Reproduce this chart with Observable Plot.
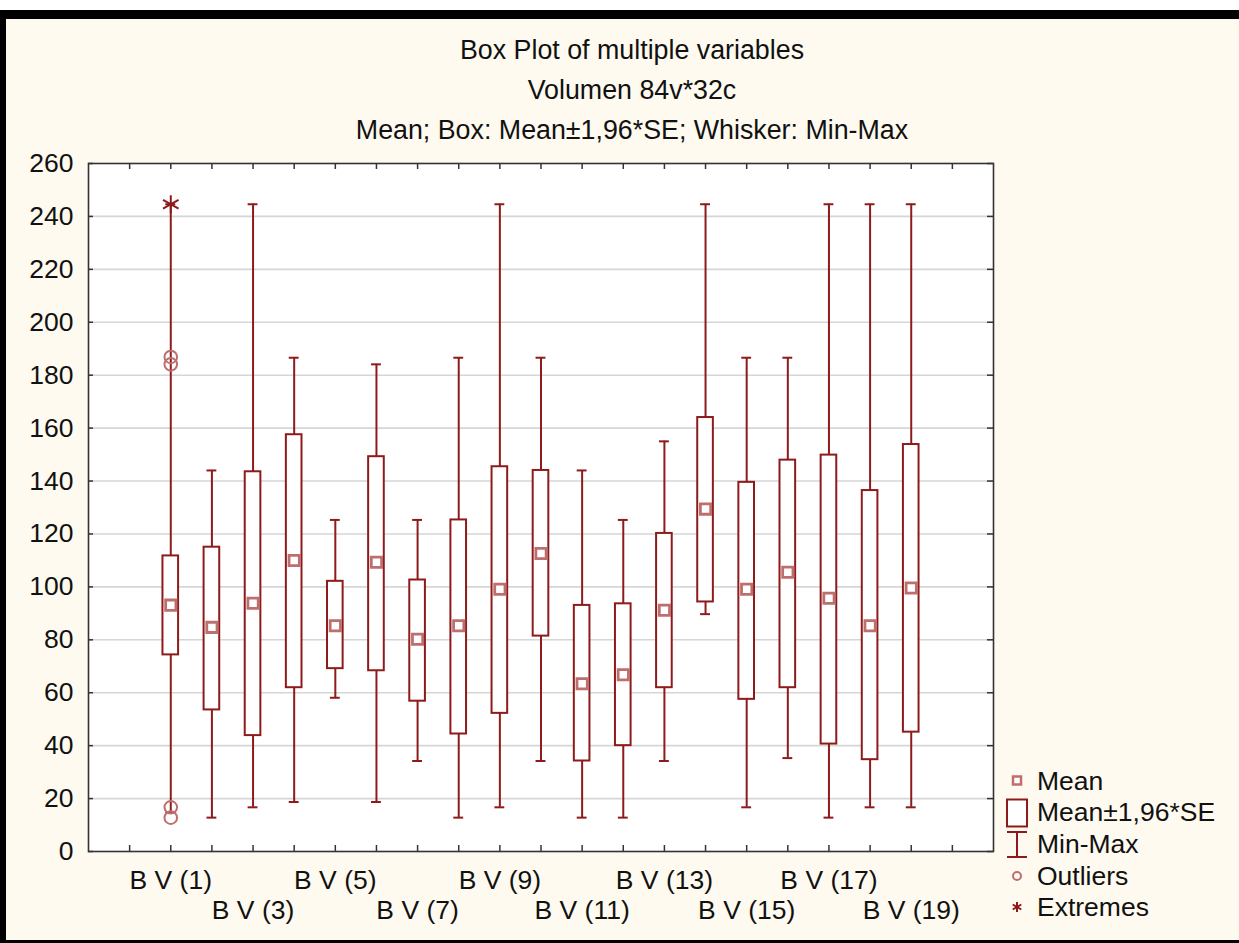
<!DOCTYPE html>
<html>
<head>
<meta charset="utf-8">
<script src="https://cdn.jsdelivr.net/npm/d3@7"></script>
<script src="https://cdn.jsdelivr.net/npm/@observablehq/plot@0.6"></script>
<style>
  body { margin: 0; background: #ffffff; font-family: "Liberation Sans", Arial, sans-serif; }
  #page { position: absolute; left: 0; top: 10px; width: 1233px; height: 921px; background: #fefaef;
          border-top: 9px solid #000; border-left: 6px solid #000; border-bottom: 3px solid #000; }
  .title { position: absolute; left: 0; width: 1264px; text-align: center; font-size: 26.8px; line-height: 30px; color: #111; }
  #chart { position: absolute; left: 0; top: 0; }
  #legend { position: absolute; left: 1000px; top: 765px; font-size: 26.5px; color: #111; }
  #legend .row { display: flex; align-items: center; height: 31.6px; }
  #legend svg { width: 34px; height: 31.6px; flex: none; overflow: visible; }
  #legend span { margin-left: 3px; line-height: 30px; }
</style>
</head>
<body>
<div id="page"></div>
<div id="chart"></div>
<div class="title" style="top:35px">Box Plot of multiple variables</div>
<div class="title" style="top:75px">Volumen 84v*32c</div>
<div class="title" style="top:115px">Mean; Box: Mean±1,96*SE; Whisker: Min-Max</div>
<div id="legend"></div>
<script>
const categories = ["B V (1)","B V (2)","B V (3)","B V (4)","B V (5)","B V (6)","B V (7)","B V (8)","B V (9)","B V (10)",
  "B V (11)","B V (12)","B V (13)","B V (14)","B V (15)","B V (16)","B V (17)","B V (18)","B V (19)"];
const meanValues = [93.1, 84.7, 93.8, 110.0, 85.3, 109.3, 80.2, 85.3, 99.1, 112.6, 63.4, 66.8, 91.2, 129.4, 99.1, 105.5, 95.7, 85.3, 99.6];
const boxLow     = [74.3, 53.5, 43.8, 61.9, 69.1, 68.3, 56.8, 44.4, 52.2, 81.4, 34.2, 40.0, 61.9, 94.3, 57.5, 61.9, 40.6, 34.7, 45.1];
const boxHigh    = [111.7, 115.0, 143.5, 157.5, 102.1, 149.2, 102.6, 125.3, 145.4, 144.0, 93.0, 93.6, 120.2, 164.0, 139.5, 147.9, 149.8, 136.4, 153.8];
const minValues  = [14.8, 12.8, 16.7, 18.7, 58.1, 18.7, 34.2, 12.8, 16.7, 34.2, 12.8, 12.8, 34.2, 89.7, 16.7, 35.3, 12.8, 16.7, 16.7];
const maxValues  = [244.6, 144.0, 244.6, 186.6, 125.3, 184.1, 125.3, 186.6, 244.6, 186.6, 144.0, 125.3, 155.0, 244.6, 186.6, 186.6, 244.6, 244.6, 244.6];
const outlierCats   = ["B V (1)", "B V (1)", "B V (1)", "B V (1)"];
const outlierValues = [186.9, 184.1, 16.7, 12.8];
const extremeCats   = ["B V (1)"];
const extremeValues = [244.6];
const labeledCats = ["B V (1)","B V (3)","B V (5)","B V (7)","B V (9)","B V (11)","B V (13)","B V (15)","B V (17)","B V (19)"];
const yTicks = [0, 20, 40, 60, 80, 100, 120, 140, 160, 180, 200, 220, 240, 260];
const legendLabels = ["Mean", "Mean±1,96*SE", "Min-Max", "Outliers", "Extremes"];

// slot positions: one empty slot at each end of the category axis
const pos = c => categories.indexOf(c) + 2;
const xSlots = d3.range(1, categories.length + 3);

const data = categories.map((c, i) => ({
  cat: c, x: pos(c), mean: meanValues[i], lo: boxLow[i], hi: boxHigh[i], min: minValues[i], max: maxValues[i]
}));
const outliers = outlierCats.map((c, i) => ({x: pos(c), v: outlierValues[i]}));
const extremes = extremeCats.map((c, i) => ({x: pos(c), v: extremeValues[i]}));
const labels = labeledCats.map((c, i) => ({x: pos(c), text: c, row: i % 2}));

const RED = "#8e1b1b";
const PINK = "#bf6e6e";
const HALF_BOX = 0.19, HALF_CAP = 0.12;
const FS = 26.5;

const plot = Plot.plot({
  width: 1239, height: 943,
  marginLeft: 88, marginRight: 246, marginTop: 163, marginBottom: 92,
  x: {domain: [0, xSlots.length + 1], axis: null},
  y: {domain: [0, 260]},
  style: {background: "transparent", fontFamily: "'Liberation Sans', Arial, sans-serif", fontSize: FS + "px", color: "#111", overflow: "visible"},
  marks: [
    Plot.frame({fill: "white"}),
    Plot.ruleY(yTicks.filter(d => d > 0 && d < 260), {stroke: "#d6d6d6", strokeWidth: 1.6}),
    Plot.axisY({ticks: yTicks, tickSize: 0, tickPadding: 15, fontSize: FS, label: null, tickFormat: d => d}),
    // inward ticks on all four edges
    Plot.tickX(xSlots, {x: d => d, insetTop: 682, stroke: "#333", strokeWidth: 1.5}),
    Plot.tickX(xSlots, {x: d => d, insetBottom: 682, stroke: "#333", strokeWidth: 1.5}),
    Plot.tickY(yTicks, {y: d => d, insetLeft: 899, stroke: "#333", strokeWidth: 1.5}),
    Plot.tickY(yTicks, {y: d => d, insetRight: 900, stroke: "#333", strokeWidth: 1.5}),
    // whiskers
    Plot.ruleX(data, {x: "x", y1: "min", y2: "max", stroke: RED, strokeWidth: 2}),
    Plot.ruleY(data, {y: "min", x1: d => d.x - HALF_CAP, x2: d => d.x + HALF_CAP, stroke: RED, strokeWidth: 2}),
    Plot.ruleY(data, {y: "max", x1: d => d.x - HALF_CAP, x2: d => d.x + HALF_CAP, stroke: RED, strokeWidth: 2}),
    // boxes
    Plot.rect(data, {x1: d => d.x - HALF_BOX, x2: d => d.x + HALF_BOX, y1: "lo", y2: "hi", fill: "white", stroke: RED, strokeWidth: 2}),
    // means
    Plot.dot(data, {x: "x", y: "mean", symbol: "square", r: 5.8, fill: "white", stroke: PINK, strokeWidth: 2.8}),
    // outliers & extremes
    Plot.dot(outliers, {x: "x", y: "v", r: 6.3, fill: "none", stroke: PINK, strokeWidth: 2}),
    Plot.dot(extremes, {x: "x", y: "v", symbol: "asterisk", r: 8.5, stroke: RED, strokeWidth: 2}),
    // category labels in two rows
    Plot.text(labels, {x: "x", text: "text", frameAnchor: "bottom", lineAnchor: "middle", fontSize: FS, fill: "#111",
      filter: d => d.row === 0, dy: 29}),
    Plot.text(labels, {x: "x", text: "text", frameAnchor: "bottom", lineAnchor: "middle", fontSize: FS, fill: "#111",
      filter: d => d.row === 1, dy: 59}),
    Plot.frame({stroke: "#333", strokeWidth: 1.6})
  ]
});
document.getElementById("chart").appendChild(plot);

// legend
const icons = [
  `<rect x="13" y="11.5" width="8" height="8" fill="white" stroke="${PINK}" stroke-width="2.5"/>`,
  `<rect x="7" y="2.5" width="20" height="27" fill="white" stroke="${RED}" stroke-width="2"/>`,
  `<line x1="17" y1="4" x2="17" y2="29" stroke="${RED}" stroke-width="2"/><line x1="7" y1="4" x2="27" y2="4" stroke="${RED}" stroke-width="2"/><line x1="7" y1="29" x2="27" y2="29" stroke="${RED}" stroke-width="2"/>`,
  `<circle cx="17" cy="16" r="4" fill="none" stroke="${PINK}" stroke-width="2"/>`,
  `<g stroke="${RED}" stroke-width="2"><line x1="17" y1="11" x2="17" y2="21"/><line x1="12.7" y1="13.5" x2="21.3" y2="18.5"/><line x1="12.7" y1="18.5" x2="21.3" y2="13.5"/></g>`
];
document.getElementById("legend").innerHTML = legendLabels.map((t, i) =>
  `<div class="row"><svg viewBox="0 0 34 31.6">${icons[i]}</svg><span>${t}</span></div>`).join("");
</script>
</body>
</html>
